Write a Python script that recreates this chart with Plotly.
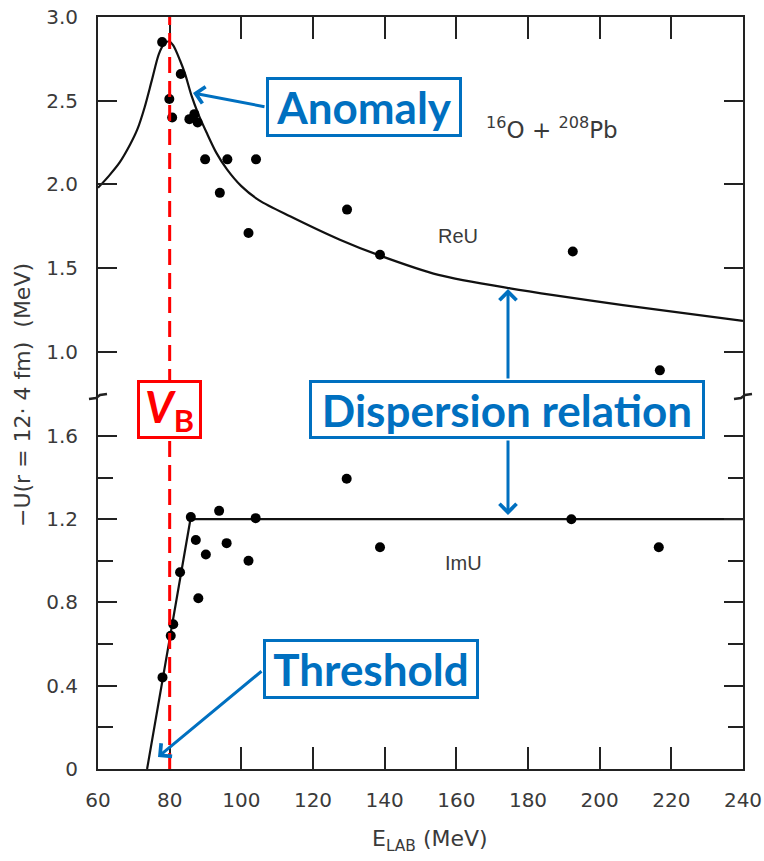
import plotly.graph_objects as go

# Measured real part of the potential, -ReU at r = 12.4 fm (MeV) vs E_LAB (MeV)
re_energy = [77.9, 83.1, 79.9, 80.7, 85.5, 86.9, 87.8, 89.9, 96.1, 104.1,
             94.0, 102.0, 129.5, 138.7, 192.5, 216.8]
re_value = [2.85, 2.66, 2.51, 2.40, 2.39, 2.42, 2.37, 2.15, 2.15, 2.15,
            1.95, 1.71, 1.85, 1.58, 1.60, 0.89]

# Measured imaginary part, -ImU at r = 12.4 fm (MeV)
im_energy = [85.9, 93.8, 104.0, 87.3, 95.9, 90.1, 102.0, 82.9, 88.0, 81.0,
             80.3, 78.0, 129.4, 138.7, 192.1, 216.5]
im_value = [1.21, 1.24, 1.205, 1.10, 1.085, 1.03, 1.00, 0.945, 0.82, 0.695,
            0.64, 0.44, 1.394, 1.065, 1.20, 1.065]

# Dispersion-relation curve for the real part
re_curve_energy = [60, 63, 66, 69, 71, 73, 75, 77, 78.5, 79.8, 81, 82.9, 84.3,
                   86.1, 88, 90.3, 93, 96, 100, 105, 113.6, 127.5, 138.7,
                   155, 175, 206.5, 240]
re_curve_value = [1.98, 2.05, 2.13, 2.24, 2.33, 2.46, 2.62, 2.78, 2.84, 2.855,
                  2.83, 2.74, 2.66, 2.53, 2.42, 2.31, 2.19, 2.09, 1.99, 1.905,
                  1.81, 1.67, 1.575, 1.46, 1.38, 1.28, 1.185]

# Linear-threshold model for the imaginary part
im_curve_energy = [73.7, 85.8, 240]
im_curve_value = [0.0, 1.2, 1.2]

# Coulomb barrier energy (MeV)
barrier_energy = 80

# Axis ticks
x_ticks = [60, 80, 100, 120, 140, 160, 180, 200, 220, 240]
re_ticks = [1.0, 1.5, 2.0, 2.5, 3.0]
re_tick_labels = ["1.0", "1.5", "2.0", "2.5", "3.0"]
im_ticks = [0, 0.4, 0.8, 1.2, 1.6]
im_tick_labels = ["0", "0.4", "0.8", "1.2", "1.6"]
im_minor_ticks = [0.2, 0.6, 1.0, 1.4]

# ---- page geometry (pixels) ----
W, H = 764, 861
ML, MR, MT, MB = 98, 21, 17, 92
PW, PH = W - ML - MR, H - MT - MB


def fx(p):
    return (p - ML) / PW


def fy(p):
    return (H - MB - p) / PH


split = fy(397)          # where the broken axis changes scale
INK = "#222222"
TXT = "#3a3a3a"
BLUE = "#0070C0"
RED = "#FF0000"
TICKFONT = dict(family="DejaVu Sans", size=20, color=TXT)

fig = go.Figure()

fig.add_trace(go.Scatter(x=re_curve_energy, y=re_curve_value, mode="lines",
                         line=dict(color="#111111", width=2.2, shape="spline", smoothing=0.8),
                         xaxis="x2", yaxis="y2", hoverinfo="skip"))
fig.add_trace(go.Scatter(x=re_energy, y=re_value, mode="markers",
                         marker=dict(color="#000000", size=10),
                         xaxis="x2", yaxis="y2"))
fig.add_trace(go.Scatter(x=im_curve_energy, y=im_curve_value, mode="lines",
                         line=dict(color="#111111", width=2.2),
                         xaxis="x", yaxis="y", hoverinfo="skip"))
fig.add_trace(go.Scatter(x=im_energy, y=im_value, mode="markers",
                         marker=dict(color="#000000", size=10),
                         xaxis="x", yaxis="y"))

axis_common = dict(showline=True, linecolor=INK, linewidth=2, ticks="inside",
                   tickcolor=INK, tickwidth=2, showgrid=False, zeroline=False,
                   automargin=False)

fig.update_layout(
    width=W, height=H,
    margin=dict(l=ML, r=MR, t=MT, b=MB, pad=0),
    paper_bgcolor="white", plot_bgcolor="white",
    showlegend=False,
    xaxis=dict(**axis_common, domain=[0, 1], anchor="y", range=[60, 240],
               tickvals=x_ticks, ticklen=22, tickfont=TICKFONT,
               ticklabelstandoff=12),
    xaxis2=dict(**axis_common, domain=[0, 1], anchor="y2", side="top",
                matches="x", range=[60, 240], tickvals=x_ticks, ticklen=22,
                showticklabels=False),
    yaxis=dict(**axis_common, domain=[0, split], anchor="x",
               range=[0, 1.787], tickvals=im_ticks, ticktext=im_tick_labels,
               ticklen=19, mirror="allticks", tickfont=TICKFONT,
               ticklabelstandoff=14,
               minor=dict(tickvals=im_minor_ticks, ticks="inside",
                          ticklen=15, tickcolor=INK, tickwidth=2)),
    yaxis2=dict(**axis_common, domain=[split, 1], anchor="x2",
                range=[0.731, 3.0], tickvals=re_ticks, ticktext=re_tick_labels,
                ticklen=19, mirror="allticks", tickfont=TICKFONT,
                ticklabelstandoff=14),
)

# Barrier energy marker
fig.add_shape(type="line", xref="x", yref="paper", x0=barrier_energy,
              x1=barrier_energy, y0=0, y1=1, layer="above",
              line=dict(color=RED, width=3, dash="16px,8px"))

# Axis-break marks on both vertical edges
for xa in (0, 1):
    fig.add_shape(type="path", xref="paper", yref="paper",
                  xsizemode="pixel", ysizemode="pixel",
                  xanchor=xa, yanchor=split,
                  path="M-9,-2 L-2,-1 L2,2 L9,3",
                  line=dict(color=INK, width=2.5))


def label(text, cx, cy, size, family="DejaVu Sans", angle=0):
    fig.add_annotation(text=text, xref="paper", yref="paper", x=fx(cx), y=fy(cy),
                       xanchor="center", yanchor="middle", showarrow=False,
                       textangle=angle, font=dict(family=family, size=size, color=TXT))


label("<sup>16</sup>O + <sup>208</sup>Pb", 552, 128, 23)
label("ReU", 458, 236, 20, "Liberation Sans")
label("ImU", 463, 563, 20, "Liberation Sans")
label("\u2212U(r = 12\u00b7 4 fm)  (MeV)", 22, 395, 22, angle=-90)
label("E<sub>LAB</sub> (MeV)", 430, 840, 22)

# Highlight boxes and arrows
BOXFONT = "Lato"


def box(text, cx, cy, w, h, color):
    fig.add_annotation(text=text, xref="paper", yref="paper", x=fx(cx), y=fy(cy),
                       xanchor="center", yanchor="middle", showarrow=False,
                       width=w, height=h, bgcolor="white", bordercolor=color,
                       borderwidth=3, borderpad=0, align="center", valign="middle",
                       font=dict(family=BOXFONT, size=44, color=color))


def arrow(tip_x, tip_y, tail_x, tail_y):
    fig.add_annotation(text="", xref="paper", yref="paper", x=fx(tip_x), y=fy(tip_y),
                       ax=tail_x - tip_x, ay=tail_y - tip_y, showarrow=True,
                       arrowhead=4, arrowsize=1.1, arrowwidth=3, arrowcolor=BLUE,
                       standoff=0, startstandoff=0)


arrow(193, 93, 266, 107)
arrow(158, 757, 263, 670)
arrow(508, 289, 508, 380)
arrow(508, 515, 508, 439)

box("<b>Anomaly</b>", 364, 107, 190, 54, BLUE)
box("<b>Dispersion relation</b>", 507, 409.5, 390, 53, BLUE)
box("<b>Threshold</b>", 371, 669, 210, 54, BLUE)
box("<b><i>V</i></b><b><sub>B</sub></b>", 169.5, 409.5, 59, 53, RED)

fig.write_html("out.html")
